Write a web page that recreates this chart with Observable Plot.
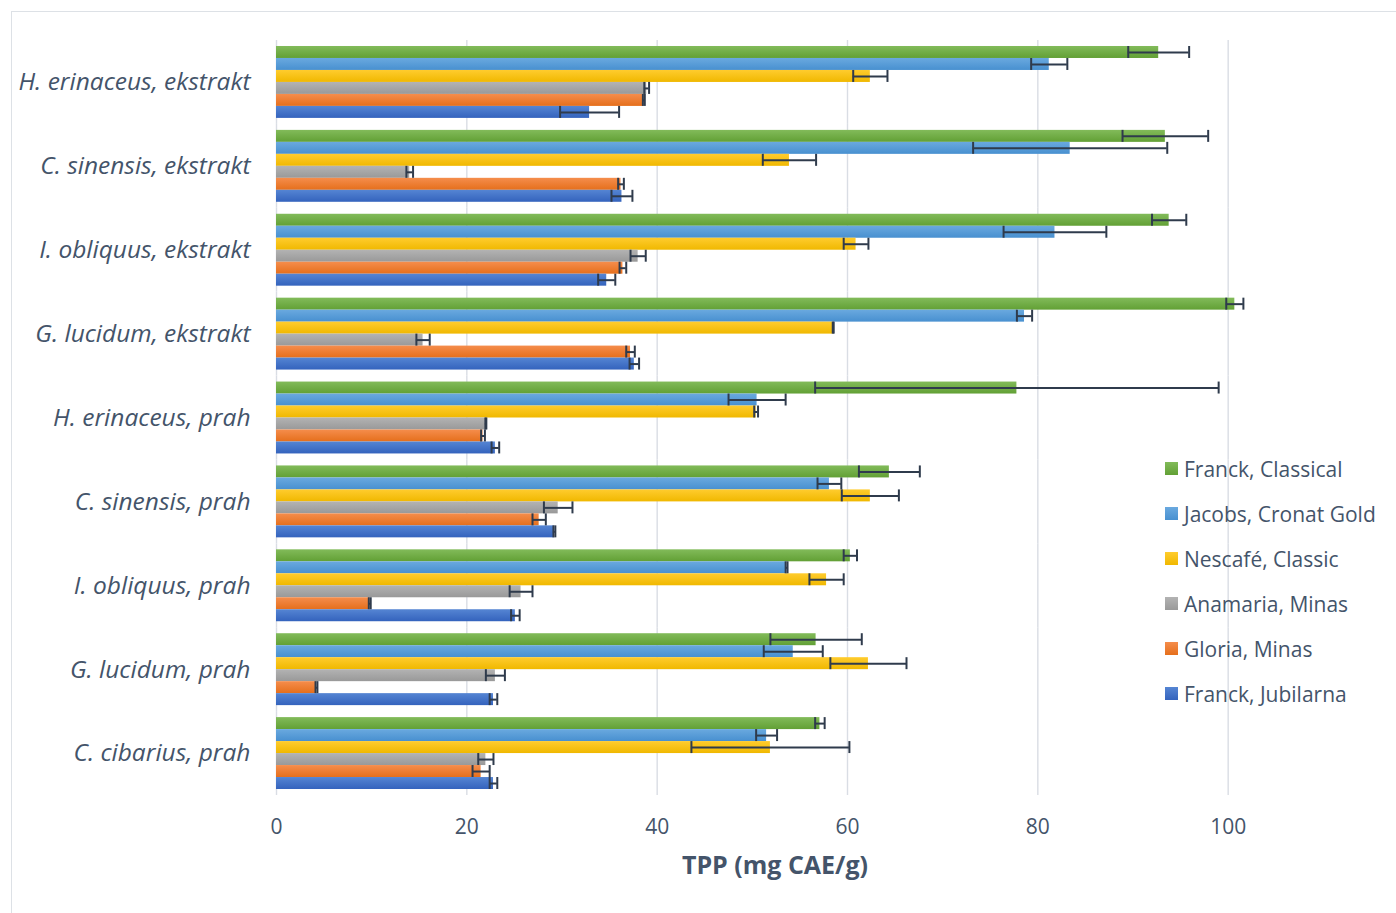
<!DOCTYPE html>
<html>
<head>
<meta charset="utf-8">
<script src="https://cdn.jsdelivr.net/npm/d3@7"></script>
<script src="https://cdn.jsdelivr.net/npm/@observablehq/plot@0.6"></script>
<style>
  body { margin: 0; background: #fff; }
  #wrap { position: relative; width: 1396px; height: 913px; overflow: hidden; font-family: "Open Sans", sans-serif; }
  #border { position: absolute; left: 11px; top: 11px; width: 1440px; height: 940px; border: 1.5px solid #dde1e6; box-sizing: border-box; }
  #chart svg { position: absolute; left: 0; top: 0; overflow: visible; }
  #legend { position: absolute; left: 1165px; top: 446px; color: #44546a; font-size: 21px; }
  #legend .item { height: 45px; display: flex; align-items: center; white-space: nowrap; }
  #legend .sw { width: 13px; height: 13px; margin-right: 6px; flex: none; }
  #xtitle { position: absolute; left: 575px; width: 400px; top: 847px; text-align: center; font-weight: bold; font-size: 25px; color: #44546a; }
</style>
</head>
<body>
<div id="wrap">
  <div id="border"></div>
  <div id="chart"></div>
  <div id="legend"></div>
  <div id="xtitle">TPP (mg CAE/g)</div>
</div>
<script>
// ---- data ----
const categories = [
  "H. erinaceus, ekstrakt",
  "C. sinensis, ekstrakt",
  "I. obliquus, ekstrakt",
  "G. lucidum, ekstrakt",
  "H. erinaceus, prah",
  "C. sinensis, prah",
  "I. obliquus, prah",
  "G. lucidum, prah",
  "C. cibarius, prah"
];
const seriesNames = ["Franck, Classical", "Jacobs, Cronat Gold", "Nescafé, Classic", "Anamaria, Minas", "Gloria, Minas", "Franck, Jubilarna"];
const seriesTop    = ["#82bb5a", "#6aa9df", "#ffcc2e", "#b3b3b3", "#f58d4c", "#5585d3"];
const seriesBottom = ["#62a035", "#4890d0", "#f0b800", "#999999", "#e56f1c", "#3463bd"];

const franckClassical    = [92.7, 93.4, 93.8, 100.7, 77.8, 64.4, 60.3, 56.7, 57.1];
const franckClassicalErr = [3.2, 4.5, 1.8, 0.9, 21.2, 3.2, 0.7, 4.8, 0.5];
const jacobs             = [81.2, 83.4, 81.8, 78.6, 50.5, 58.1, 53.6, 54.3, 51.5];
const jacobsErr          = [1.9, 10.2, 5.4, 0.8, 3.0, 1.25, 0.1, 3.1, 1.1];
const nescafe            = [62.4, 53.9, 60.9, 58.5, 50.4, 62.4, 57.8, 62.2, 51.9];
const nescafeErr         = [1.8, 2.8, 1.3, 0.05, 0.2, 3.0, 1.8, 4.0, 8.3];
const anamaria           = [38.9, 14.0, 38.0, 15.4, 22.0, 29.6, 25.7, 23.0, 22.0];
const anamariaErr        = [0.25, 0.35, 0.8, 0.7, 0.05, 1.5, 1.2, 1.0, 0.8];
const gloria             = [38.6, 36.2, 36.4, 37.2, 21.7, 27.6, 9.8, 4.2, 21.5];
const gloriaErr          = [0.1, 0.3, 0.35, 0.45, 0.2, 0.7, 0.1, 0.1, 0.9];
const jubilarna          = [32.9, 36.3, 34.7, 37.6, 23.0, 29.2, 25.1, 22.8, 22.8];
const jubilarnaErr       = [3.1, 1.1, 0.9, 0.5, 0.4, 0.1, 0.45, 0.4, 0.4];

const xTicks = [0, 20, 40, 60, 80, 100];

// ---- build table ----
const seriesValues = [franckClassical, jacobs, nescafe, anamaria, gloria, jubilarna];
const seriesErrors = [franckClassicalErr, jacobsErr, nescafeErr, anamariaErr, gloriaErr, jubilarnaErr];
const rows = [];
categories.forEach((c, i) => {
  seriesNames.forEach((s, j) => {
    rows.push({cat: c, series: s, idx: j, value: seriesValues[j][i], err: seriesErrors[j][i]});
  });
});

const errColor = "#2f3b4c";
const textColor = "#44546a";

const marks = [
  Plot.gridX({ticks: xTicks, stroke: "#d9dde4", strokeOpacity: 1, strokeWidth: 1.4})
];
seriesNames.forEach((s, j) => {
  marks.push(Plot.barX(rows.filter(d => d.idx === j), {
    x: "value", y: "series", fy: "cat", fill: `url(#grad${j})`
  }));
});
marks.push(
  Plot.ruleY(rows, {x1: d => d.value - d.err, x2: d => d.value + d.err, y: "series", fy: "cat", stroke: errColor, strokeWidth: 2}),
  Plot.tickX(rows, {x: d => d.value - d.err, y: "series", fy: "cat", stroke: errColor, strokeWidth: 2}),
  Plot.tickX(rows, {x: d => d.value + d.err, y: "series", fy: "cat", stroke: errColor, strokeWidth: 2}),
  Plot.axisFy({anchor: "left", tickSize: 0, tickPadding: 26, fontSize: 24.5, fontStyle: "italic", color: textColor, label: null}),
  Plot.axisX({ticks: xTicks, tickSize: 0, tickPadding: 24, fontSize: 21, color: textColor, label: null})
);

const chart = Plot.plot({
  width: 1396,
  height: 913,
  marginTop: 40,
  marginBottom: 118,
  marginLeft: 276,
  marginRight: 0,
  style: {background: "transparent", fontFamily: "'Open Sans', sans-serif"},
  x: {domain: [0, 120], range: [276, 1418]},
  y: {domain: seriesNames, paddingInner: 0, paddingOuter: 0.5, round: false, axis: null},
  fy: {domain: categories, padding: 0, round: false, label: null},
  marks
});

// gradients for bars
const ns = "http://www.w3.org/2000/svg";
const defs = document.createElementNS(ns, "defs");
seriesNames.forEach((s, j) => {
  const g = document.createElementNS(ns, "linearGradient");
  g.setAttribute("id", `grad${j}`);
  g.setAttribute("x1", "0"); g.setAttribute("y1", "0");
  g.setAttribute("x2", "0"); g.setAttribute("y2", "1");
  [[0, seriesTop[j]], [1, seriesBottom[j]]].forEach(([o, c]) => {
    const st = document.createElementNS(ns, "stop");
    st.setAttribute("offset", o);
    st.setAttribute("stop-color", c);
    g.appendChild(st);
  });
  defs.appendChild(g);
});
chart.insertBefore(defs, chart.firstChild);
document.getElementById("chart").appendChild(chart);

// legend
const legend = document.getElementById("legend");
seriesNames.forEach((s, j) => {
  const item = document.createElement("div");
  item.className = "item";
  const sw = document.createElement("span");
  sw.className = "sw";
  sw.style.background = `linear-gradient(${seriesTop[j]}, ${seriesBottom[j]})`;
  const t = document.createElement("span");
  t.textContent = s;
  item.appendChild(sw); item.appendChild(t);
  legend.appendChild(item);
});
</script>
</body>
</html>
